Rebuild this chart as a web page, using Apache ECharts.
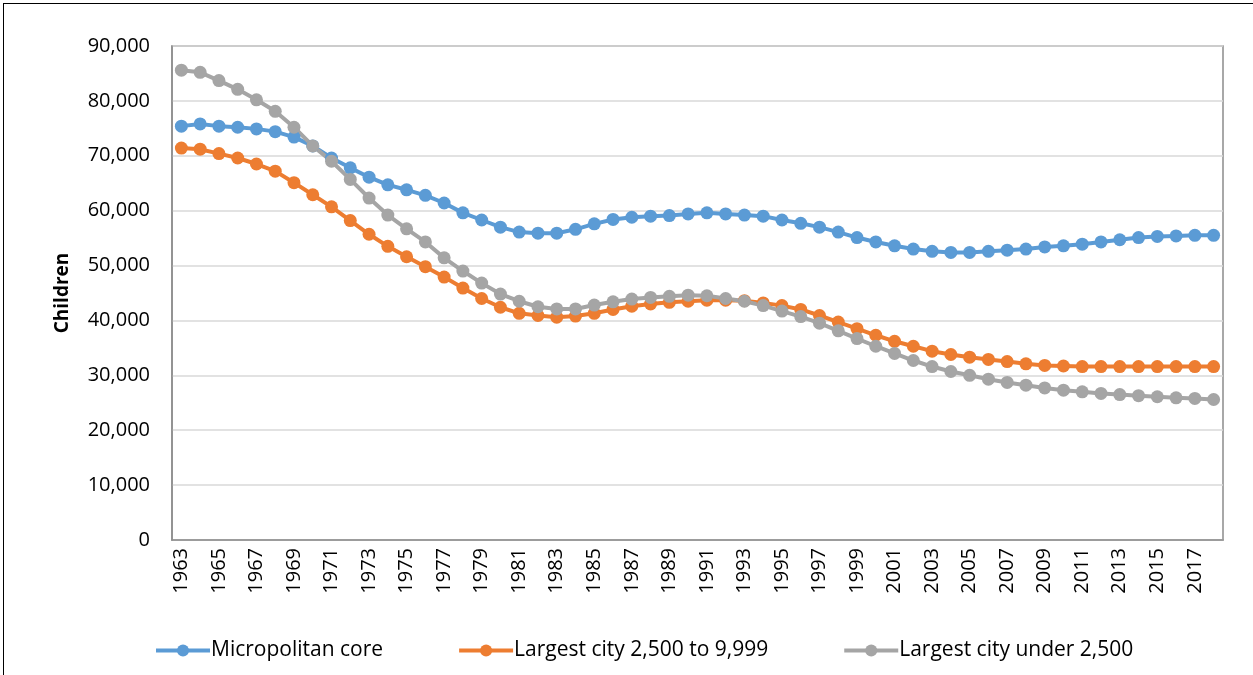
<!DOCTYPE html>
<html>
<head>
<meta charset="utf-8">
<script src="https://cdn.jsdelivr.net/npm/echarts@6/dist/echarts.min.js"></script>
<style>
    html, body { margin: 0; padding: 0; background: #fff; }
    #childrenChart { position: absolute; left: 0; top: 0; width: 1253px; height: 675px; }
    #frame { position: absolute; left: 3px; top: 3px; width: 1260px; height: 690px; border: 1.5px solid #000; pointer-events: none; }
</style>
</head>
<body>
<div id="childrenChart"></div>
<div id="frame"></div>
<script>
const years = [];
for (let y = 1963; y <= 2018; y++) years.push(String(y));

const seriesNames = ['Micropolitan core', 'Largest city 2,500 to 9,999', 'Largest city under 2,500'];

const micropolitanCore = [
    75400, 75800, 75400, 75200, 74900, 74400, 73400, 71800, 69600, 67800,
    66100, 64700, 63800, 62800, 61400, 59600, 58300, 57000, 56100, 55900,
    55900, 56600, 57600, 58400, 58800, 59000, 59100, 59400, 59600, 59400,
    59200, 59000, 58300, 57700, 57000, 56100, 55100, 54300, 53600, 53000,
    52600, 52400, 52400, 52600, 52800, 53000, 53400, 53600, 53900, 54300,
    54700, 55100, 55300, 55400, 55500, 55500
];

const city2500to9999 = [
    71400, 71200, 70400, 69600, 68500, 67200, 65100, 62900, 60700, 58200,
    55700, 53500, 51600, 49800, 47900, 45900, 44000, 42400, 41300, 40900,
    40600, 40800, 41300, 42000, 42600, 43000, 43300, 43500, 43700, 43700,
    43600, 43200, 42700, 42000, 40900, 39700, 38500, 37300, 36200, 35300,
    34400, 33800, 33300, 32900, 32500, 32100, 31800, 31700, 31600, 31600,
    31600, 31600, 31600, 31600, 31600, 31600
];

const cityUnder2500 = [
    85600, 85200, 83700, 82100, 80200, 78100, 75200, 71800, 69000, 65700,
    62300, 59200, 56700, 54300, 51400, 49000, 46800, 44800, 43500, 42500,
    42100, 42100, 42800, 43400, 43900, 44200, 44400, 44600, 44500, 44000,
    43500, 42700, 41700, 40700, 39500, 38100, 36700, 35300, 34000, 32700,
    31600, 30700, 30000, 29300, 28700, 28200, 27700, 27300, 27000, 26700,
    26500, 26300, 26100, 25900, 25800, 25600
];

const colors = ['#5B9BD5', '#ED7D31', '#A5A5A5'];
const txtFont = 'Open Sans';

const chart = echarts.init(document.getElementById('childrenChart'));

function makeSeries(name, data) {
    return {
        name: name,
        type: 'line',
        data: data,
        symbol: 'circle',
        symbolSize: 13,
        showAllSymbol: true,
        lineStyle: { width: 4 },
        emphasis: { disabled: true },
        animation: false
    };
}

const option = {
    color: colors,
    textStyle: { fontFamily: txtFont },
    grid: { left: 172, right: 30, top: 46, bottom: 135, show: true, borderColor: '#8c8c8c', borderWidth: 1.5 },
    legend: {
        bottom: 9,
        left: 149,
        itemWidth: 54,
        itemHeight: 15,
        itemGap: 74,
        lineStyle: { width: 4 },
        textStyle: { fontFamily: txtFont, fontSize: 21, color: '#000', padding: [0, 0, 0, -4] },
        data: seriesNames
    },
    xAxis: {
        type: 'category',
        data: years,
        boundaryGap: true,
        axisLine: { lineStyle: { color: '#8c8c8c', width: 1.5 } },
        axisTick: { show: false },
        axisLabel: { rotate: 90, interval: 1, fontSize: 20, color: '#000', margin: 8 }
    },
    yAxis: {
        type: 'value',
        min: 0,
        max: 90000,
        interval: 10000,
        name: 'Children',
        nameLocation: 'middle',
        nameGap: 100,
        nameTextStyle: { fontWeight: 'bold', fontSize: 19, color: '#000' },
        axisLine: { show: true, lineStyle: { color: '#8c8c8c', width: 1.5 } },
        axisTick: { show: false },
        splitLine: { lineStyle: { color: '#d9d9d9', width: 1.5 } },
        axisLabel: {
            fontSize: 20,
            color: '#000',
            margin: 22,
            formatter: (val) => val.toLocaleString('en-US')
        }
    },
    series: [
        makeSeries(seriesNames[0], micropolitanCore),
        makeSeries(seriesNames[1], city2500to9999),
        makeSeries(seriesNames[2], cityUnder2500)
    ]
};

chart.setOption(option);
</script>
</body>
</html>
